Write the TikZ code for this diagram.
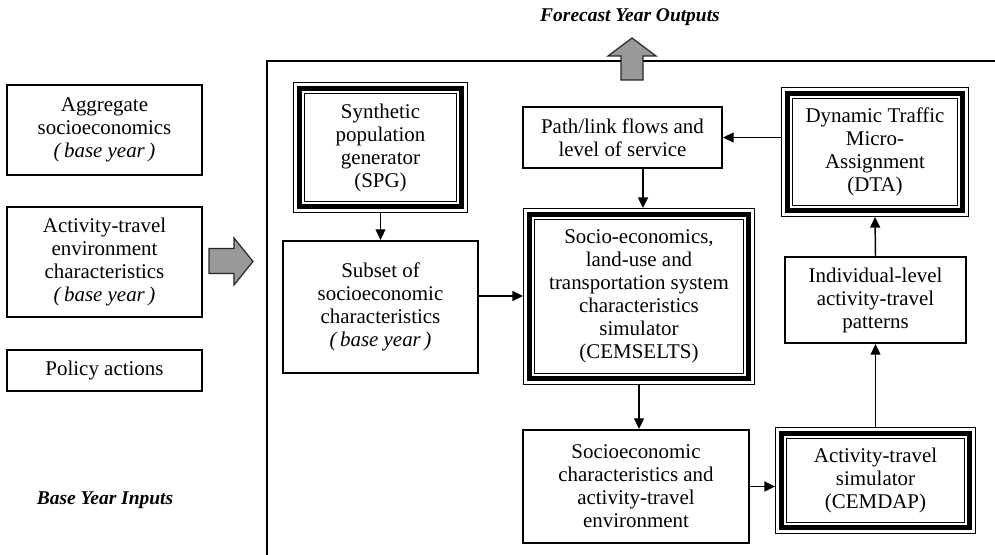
\documentclass[tikz,border=0pt]{standalone}
\usepackage{fontspec}
\setmainfont{Liberation Serif}
\usetikzlibrary{arrows.meta,calc}

\newcommand\boxfont{\fontsize{15.7pt}{17.25pt}\selectfont}
\newcommand\captionfont{\fontsize{14.6pt}{17pt}\selectfont\bfseries\itshape}
\newcommand\baseyr{\textit{(\,base year\,)}}

\tikzset{
  sz/.style 2 args={minimum width=#1*0.75pt, minimum height=#2*0.75pt},
  box/.style={draw, line width=1.6pt, inner sep=0pt, align=center, font=\boxfont},
  tribox/.style={inner sep=0pt, outer sep=0pt, align=center, font=\boxfont},
  conn/.style={line width=1.1pt, -{Triangle[length=8pt,width=7.5pt]}},
  blockarrow/.style={fill=black!40, draw=black!85, line width=0.9pt, line join=miter},
  caption/.style={font=\captionfont, inner sep=0pt},
  frame/.style={line width=1.6pt}
}

% three nested outlines: thin outer line, heavy band, thin inner line
\newcommand\triframe[1]{%
  \draw[line width=1pt] ($(#1.north west)+(0.7,0.7)$) rectangle ($(#1.south east)-(0.7,0.7)$);
  \draw[line width=3.75pt] ($(#1.north west)+(6.8,6.8)$) rectangle ($(#1.south east)-(6.8,6.8)$);
  \draw[line width=1.1pt] ($(#1.north west)+(11.5,11.5)$) rectangle ($(#1.south east)-(11.5,11.5)$);
}

\begin{document}
\begin{tikzpicture}[x=0.75pt, y=-0.75pt]
\useasboundingbox (0,0) rectangle (995,555);

% base-year inputs
\node[box, sz={195}{90}] (agg) at (104.5,130) {Aggregate\\socioeconomics\\\baseyr};
\node[box, sz={195}{110}] (env) at (104.5,262) {Activity-travel\\environment\\characteristics\\\baseyr};
\node[box, sz={195}{41}] (pol) at (104.5,370.5) {Policy actions};
\node[caption] (byi) at (105,500) {Base Year Inputs};

% forecasting system frame
\draw[frame] (267,555) -- (267,61) -- (995,61);

% block arrows
\draw[blockarrow] (209,248.5) -- (234,248.5) -- (234,238) -- (253,261.5) -- (234,285) -- (234,273.5) -- (209,273.5) -- cycle;
\draw[blockarrow] (621,80) -- (621,56) -- (608,56) -- (632,38) -- (656,56) -- (643,56) -- (643,80) -- cycle;
\node[caption] (fyo) at (630,17) {Forecast Year Outputs};

% model components
\node[tribox, sz={175}{131}] (spg) at (380.5,147.5) {Synthetic\\population\\generator\\(SPG)};
\triframe{spg}
\node[box, sz={195}{132}] (sub) at (380.5,307) {Subset of\\socioeconomic\\characteristics\\\baseyr};
\node[box, sz={199}{61}] (los) at (622.5,137.5) {Path/link flows and\\level of service};
\node[tribox, sz={232}{177}] (cem) at (639,296.5) {Socio-economics,\\land-use and\\transportation system\\characteristics\\simulator\\(CEMSELTS)};
\triframe{cem}
\node[box, sz={226}{113}] (soc) at (636,486.5) {Socioeconomic\\characteristics and\\activity-travel\\environment};
\node[tribox, sz={201}{107}] (dap) at (875.5,480.5) {Activity-travel\\simulator\\(CEMDAP)};
\triframe{dap}
\node[box, sz={181}{86}] (ind) at (875.5,300) {Individual-level\\activity-travel\\patterns};
\node[tribox, sz={188}{130}] (dta) at (875,152) {Dynamic Traffic\\Micro-\\Assignment\\(DTA)};
\triframe{dta}

% flows between components
\draw[conn] (spg.south) -- (sub.north);
\draw[conn] ([yshift=8.25pt]sub.east) -- ([yshift=8.25pt]sub.east -| cem.west);
\draw[conn] ([xshift=3pt]cem.north |- los.south) -- ([xshift=3pt]cem.north);
\draw[conn] (cem.south) -- (cem.south |- soc.north);
\draw[conn] (soc.east) -- (soc.east -| dap.west);
\draw[conn] (dap.north) -- (ind.south);
\draw[conn] (ind.north) -- (dta.south);
\draw[conn] (dta.west |- los.east) -- (los.east);
\end{tikzpicture}
\end{document}
